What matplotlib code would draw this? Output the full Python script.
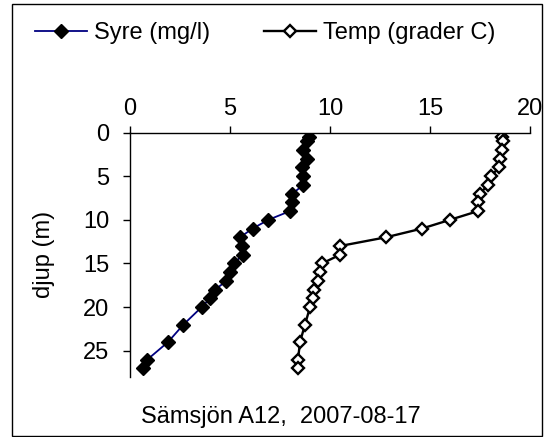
import matplotlib
matplotlib.use("Agg")
import matplotlib.pyplot as plt
from matplotlib.patches import Rectangle
from matplotlib.ticker import MultipleLocator

plt.rcParams['font.family'] = ['Liberation Sans', 'DejaVu Sans']

# djup (m)
djup = [0.5, 1, 2, 3, 4, 5, 6, 7, 8, 9, 10, 11, 12, 13, 14, 15, 16, 17, 18, 19, 20, 22, 24, 26, 27]
# syre (mg/l)
syre = [8.97, 8.87, 8.67, 8.83, 8.58, 8.67, 8.67, 8.12, 8.08, 8.0, 6.92, 6.13, 5.5, 5.58, 5.63,
        5.2, 5.0, 4.82, 4.25, 4.0, 3.58, 2.67, 1.9, 0.87, 0.64]
# temp (grader C)
temp = [18.6, 18.67, 18.6, 18.5, 18.45, 18.05, 17.9, 17.5, 17.4, 17.4, 16.0, 14.6, 12.8, 10.5, 10.5,
        9.6, 9.5, 9.4, 9.2, 9.15, 9.0, 8.75, 8.5, 8.4, 8.4]

fig = plt.figure(figsize=(5.53, 4.37), dpi=100)
ax = fig.add_axes([130 / 553, 1 - 377 / 437, 400 / 553, 244.5 / 437])

ax.plot(syre, djup, color='#000080', lw=1.3, marker='D', ms=7.3,
        mfc='black', mec='black', label='Syre (mg/l)')
ax.plot(temp, djup, color='black', lw=1.7, marker='D', ms=6.6,
        mfc='white', mec='black', mew=1.7, label='Temp (grader C)')

ax.set_xlim(0, 20)
ax.set_ylim(28, 0)
ax.xaxis.set_major_locator(MultipleLocator(5))
ax.yaxis.set_major_locator(MultipleLocator(5))
ax.xaxis.tick_top()
ax.spines['right'].set_visible(False)
ax.spines['bottom'].set_visible(False)
for s in ['top', 'left']:
    ax.spines[s].set_linewidth(1.0)
ax.tick_params(axis='x', direction='out', length=5, width=1.0, labelsize=17, pad=4)
ax.tick_params(axis='y', direction='out', length=5, width=1.0, labelsize=17, pad=10)
ax.set_ylabel('djup (m)', fontsize=17, labelpad=20)

fig.legend(loc='center', bbox_to_anchor=(0.48, 1 - 33 / 437), ncol=2, frameon=False,
           fontsize=17, handlelength=2.2, handletextpad=0.3, columnspacing=2.3,
           borderpad=0, borderaxespad=0)

fig.text(281 / 553, 1 - 417 / 437, 'Sämsjön A12,  2007-08-17', fontsize=17,
         ha='center', va='center')

# рамка вокруг всего графика
fig.patches.append(Rectangle((12 / 553, 1 / 437), 530 / 553, 432 / 437, fill=False,
                             edgecolor='black', lw=1.0, transform=fig.transFigure))

fig.savefig('out.png', dpi=100)
